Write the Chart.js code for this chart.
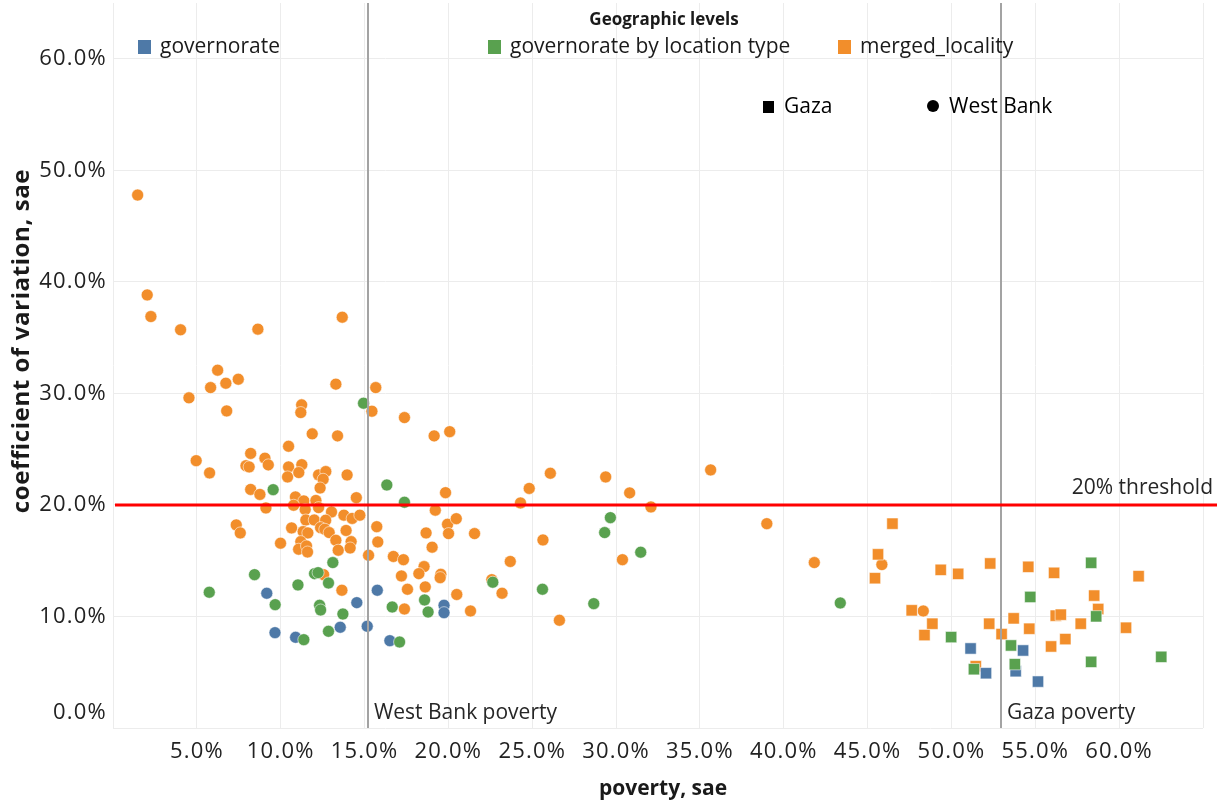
<!DOCTYPE html>
<html>
<head>
<meta charset="utf-8">
<title>Poverty vs coefficient of variation</title>
<script src="https://cdn.jsdelivr.net/npm/chart.js@4.4.0/dist/chart.umd.min.js"></script>
<style>
  html, body { margin: 0; padding: 0; background: #ffffff; }
  #wrap { width: 1223px; height: 805px; }
</style>
</head>
<body>
<div id="wrap"><canvas id="chart" width="1223" height="805"></canvas></div>
<script>
// ---- data: poverty (sae, %) and coefficient of variation (sae, %) ----
// governorate level
const govWestBankPoverty = [9.17, 15.76, 14.54, 19.74, 19.74, 9.66, 10.89, 13.55, 15.16, 16.51];
const govWestBankCV      = [12.08, 12.35, 11.24, 11.0, 10.34, 8.55, 8.13, 9.03, 9.12, 7.83];
const govGazaPoverty     = [51.14, 54.27, 52.06, 53.83, 55.16];
const govGazaCV          = [7.13, 6.95, 4.91, 5.09, 4.16];

// governorate by location type
const locWestBankPoverty = [14.94, 16.33, 17.38, 9.55, 13.11, 8.44, 12.02, 12.23, 12.85, 11.03, 5.74, 9.67, 12.32, 12.38,
                            13.71, 18.58, 16.65, 18.79, 11.38, 12.85, 17.09, 22.65, 25.61, 28.67, 29.66, 29.32, 31.47, 43.37];
const locWestBankCV      = [29.12, 21.79, 20.24, 21.37, 14.83, 13.75, 13.84, 13.93, 13.0, 12.83, 12.17, 11.06, 11.0, 10.58,
                            10.22, 11.48, 10.85, 10.4, 7.92, 8.67, 7.71, 13.07, 12.44, 11.15, 18.86, 17.52, 15.76, 11.21];
const locGazaPoverty     = [58.33, 54.70, 58.63, 49.98, 53.55, 58.33, 62.51, 51.34, 53.78];
const locGazaCV          = [14.81, 11.75, 10.01, 8.15, 7.4, 5.93, 6.38, 5.27, 5.72];

// merged localities
const mergedWestBankPoverty = [
  1.47, 2.04, 2.26, 4.03, 8.64, 13.67, 6.24, 5.82, 6.73, 7.47, 4.53, 6.78, 13.29, 15.67, 15.44, 11.25, 11.2, 11.88, 13.39, 10.47,
  17.38, 19.15, 20.08, 4.96, 5.76, 8.21, 7.93, 8.12, 9.06, 9.26, 10.47, 11.26, 10.41, 11.08, 12.26, 12.69, 12.53, 12.35, 13.96, 8.21,
  8.76, 10.88, 11.38, 12.1, 14.51, 19.83, 10.77, 9.12, 11.46, 12.26, 13.03, 13.77, 14.26, 14.72, 19.22, 11.5, 12.0, 12.68, 7.35, 7.59,
  10.65, 11.34, 11.62, 12.38, 12.63, 12.89, 13.9, 15.73, 19.95, 20.01, 18.67, 20.47, 21.56, 9.99, 11.2, 11.07, 11.54, 11.6, 13.29, 13.43,
  14.2, 14.14, 15.79, 19.03, 15.24, 16.72, 17.32, 18.55, 18.24, 17.2, 19.55, 19.51, 18.62, 17.56, 12.56, 13.65, 20.5, 17.38, 21.32, 22.59,
  23.2, 23.69, 24.3, 24.82, 26.08, 25.64, 26.62, 29.38, 30.81, 30.38, 32.08, 35.64, 38.99, 41.82, 45.85, 48.32
];
const mergedWestBankCV = [
  47.78, 38.83, 36.89, 35.7, 35.76, 36.83, 32.08, 30.52, 30.91, 31.27, 29.6, 28.43, 30.83, 30.52, 28.4, 28.97, 28.28, 26.37, 26.19, 25.26,
  27.83, 26.19, 26.57, 23.97, 22.87, 24.62, 23.52, 23.41, 24.19, 23.59, 23.41, 23.61, 22.51, 22.9, 22.69, 22.99, 22.3, 21.52, 22.69, 21.39,
  20.94, 20.72, 20.36, 20.4, 20.65, 21.1, 19.97, 19.73, 19.58, 19.76, 19.37, 19.08, 18.79, 19.08, 19.53, 18.65, 18.65, 18.63, 18.21, 17.49,
  17.94, 17.61, 17.49, 17.96, 17.82, 17.52, 17.71, 18.05, 18.27, 17.43, 17.49, 18.77, 17.43, 16.57, 16.71, 16.03, 16.32, 15.78, 16.83, 15.94,
  16.71, 16.14, 16.68, 16.21, 15.49, 15.38, 15.09, 14.47, 13.84, 13.63, 13.78, 13.48, 12.65, 12.44, 13.75, 12.35, 11.97, 10.67, 10.49, 13.3,
  12.08, 14.93, 20.18, 21.48, 22.84, 16.86, 9.66, 22.51, 21.08, 15.09, 19.82, 23.14, 18.32, 14.83, 14.65, 10.49
];
const mergedGazaPoverty = [46.48, 45.62, 45.44, 49.36, 50.4, 52.31, 54.58, 56.12, 61.16, 58.51, 58.75, 47.63, 48.86, 48.39, 52.25,
                           53.71, 52.99, 54.64, 56.22, 56.52, 57.71, 60.41, 56.79, 55.94, 51.45];
const mergedGazaCV      = [18.32, 15.57, 13.43, 14.18, 13.82, 14.75, 14.45, 13.91, 13.61, 11.87, 10.67, 10.55, 9.35, 8.33, 9.35,
                           9.83, 8.42, 8.9, 10.07, 10.16, 9.35, 8.99, 7.97, 7.31, 5.54];

// reference values
const westBankPovertyRate = 15.2;
const gazaPovertyRate = 52.95;
const cvThreshold = 20;

// axis ticks
const xTickValues = [5, 10, 15, 20, 25, 30, 35, 40, 45, 50, 55, 60];
const yTickValues = [0, 10, 20, 30, 40, 50, 60];

const levelNames = ['governorate', 'governorate by location type', 'merged_locality'];
const regionNames = ['Gaza', 'West Bank'];
const xTitle = 'poverty, sae';
const yTitle = 'coefficient of variation, sae';

// ---- styling ----
const FONT = '"Open Sans", "Noto Sans", "DejaVu Sans", sans-serif';
const COLORS = { governorate: '#4e79a7', location: '#59a14f', merged: '#f28e2b' };
const CIRCLE_R = 6;
const SQUARE_R = 8;
const TICK_SPACING = '1.2px';

function pairs(xs, ys) {
  return xs.map((x, i) => ({ x: x, y: ys[i] }));
}

function series(label, xs, ys, color, shape, order) {
  return {
    label: label,
    data: pairs(xs, ys),
    pointStyle: shape,
    pointRadius: shape === 'rect' ? SQUARE_R : CIRCLE_R,
    pointHoverRadius: shape === 'rect' ? SQUARE_R : CIRCLE_R,
    backgroundColor: color,
    borderColor: 'rgba(255,255,255,0.55)',
    borderWidth: 1,
    order: order
  };
}

const datasets = [
  series('governorate (Gaza)', govGazaPoverty, govGazaCV, COLORS.governorate, 'rect', 1),
  series('governorate (West Bank)', govWestBankPoverty, govWestBankCV, COLORS.governorate, 'circle', 1),
  series('governorate by location type (Gaza)', locGazaPoverty, locGazaCV, COLORS.location, 'rect', 0),
  series('governorate by location type (West Bank)', locWestBankPoverty, locWestBankCV, COLORS.location, 'circle', 0),
  series('merged_locality (Gaza)', mergedGazaPoverty, mergedGazaCV, COLORS.merged, 'rect', 2),
  series('merged_locality (West Bank)', mergedWestBankPoverty, mergedWestBankCV, COLORS.merged, 'circle', 2)
];

function pct(v) { return v.toFixed(1) + '%'; }

// slightly looser tracking for the axis tick labels
const tickTracking = {
  id: 'tickTracking',
  beforeDraw(chart) { chart.ctx.letterSpacing = TICK_SPACING; },
  beforeDatasetsDraw(chart) { chart.ctx.letterSpacing = '0px'; }
};

// reference lines and their captions, drawn over the marks
const referenceLines = {
  id: 'referenceLines',
  afterDatasetsDraw(chart) {
    const { ctx, chartArea, scales } = chart;
    const xs = scales.x, ys = scales.y;
    ctx.save();
    ctx.letterSpacing = '0px';
    // poverty rates (vertical)
    ctx.strokeStyle = '#a3a3a3';
    ctx.lineWidth = 2;
    [westBankPovertyRate, gazaPovertyRate].forEach(v => {
      const px = Math.round(xs.getPixelForValue(v));
      ctx.beginPath();
      ctx.moveTo(px, chartArea.top);
      ctx.lineTo(px, chartArea.bottom);
      ctx.stroke();
    });
    // CV threshold (horizontal)
    const py = ys.getPixelForValue(cvThreshold);
    ctx.strokeStyle = '#ff0000';
    ctx.lineWidth = 3;
    ctx.beginPath();
    ctx.moveTo(chartArea.left + 2, py);
    ctx.lineTo(chartArea.right + 14, py);
    ctx.stroke();

    ctx.fillStyle = '#262626';
    ctx.font = '21px ' + FONT;
    ctx.textBaseline = 'middle';
    ctx.textAlign = 'left';
    const labelY = ys.getPixelForValue(0) - 15;
    ctx.fillText('West Bank poverty', xs.getPixelForValue(westBankPovertyRate) + 6, labelY);
    ctx.fillText('Gaza poverty', xs.getPixelForValue(gazaPovertyRate) + 6, labelY);
    ctx.textAlign = 'right';
    ctx.fillText(cvThreshold + '% threshold', chartArea.right + 10, py - 17);
    ctx.restore();
  }
};

// colour and shape legends placed inside the plot, the raised 0% label and the axis titles
const overlayLegend = {
  id: 'overlayLegend',
  afterDraw(chart) {
    const { ctx, scales, chartArea } = chart;
    const ys = scales.y;
    ctx.save();
    ctx.letterSpacing = '0px';
    ctx.fillStyle = '#1a1a1a';
    ctx.font = 'bold 17px ' + FONT;
    ctx.textAlign = 'center';
    ctx.textBaseline = 'middle';
    ctx.fillText('Geographic levels', 664, 20);

    const items = [
      { name: levelNames[0], color: COLORS.governorate, x: 138 },
      { name: levelNames[1], color: COLORS.location, x: 488 },
      { name: levelNames[2], color: COLORS.merged, x: 838 }
    ];
    ctx.font = '21px ' + FONT;
    ctx.textAlign = 'left';
    items.forEach(it => {
      ctx.fillStyle = it.color;
      ctx.fillRect(it.x, 40, 13, 14);
      ctx.fillStyle = '#1a1a1a';
      ctx.fillText(it.name, it.x + 22, 47);
    });

    // region shapes
    ctx.fillStyle = '#000';
    ctx.fillRect(763, 101, 11, 12);
    ctx.fillText(regionNames[0], 784, 107);
    ctx.beginPath();
    ctx.arc(933, 106, 6, 0, Math.PI * 2);
    ctx.fill();
    ctx.fillText(regionNames[1], 949, 107);

    // bottom y tick label sits just above the axis
    ctx.letterSpacing = TICK_SPACING;
    ctx.fillStyle = '#222';
    ctx.font = '22px ' + FONT;
    ctx.textAlign = 'right';
    ctx.fillText(pct(yTickValues[0]), ys.right - 6, ys.getPixelForValue(0) - 15);

    // axis titles
    ctx.letterSpacing = '0px';
    ctx.fillStyle = '#1a1a1a';
    ctx.textAlign = 'center';
    ctx.font = 'bold 21px ' + FONT;
    ctx.fillText(xTitle, (chartArea.left + chartArea.right) / 2 + 5, 789);

    ctx.save();
    ctx.letterSpacing = '0.6px';
    ctx.translate(22, 341);
    ctx.rotate(-Math.PI / 2);
    ctx.font = 'bold 24px ' + FONT;
    ctx.fillText(yTitle, 0, 0);
    ctx.restore();
    ctx.restore();
  }
};

Chart.defaults.font.family = FONT;

new Chart(document.getElementById('chart'), {
  type: 'scatter',
  data: { datasets: datasets },
  plugins: [tickTracking, referenceLines, overlayLegend],
  options: {
    responsive: false,
    animation: false,
    devicePixelRatio: 1,
    layout: { autoPadding: false, padding: { top: 3, right: 20, bottom: 0, left: 0 } },
    plugins: {
      legend: { display: false },
      tooltip: { enabled: false }
    },
    scales: {
      x: {
        type: 'linear',
        min: 0,
        max: 65,
        afterFit(scale) {
          scale.height = 77;
          scale.paddingLeft = 0;
          scale.paddingRight = 0;
        },
        afterBuildTicks(scale) {
          scale.ticks = [0].concat(xTickValues, [65]).map(v => ({ value: v }));
        },
        border: { display: false },
        grid: { color: '#ececec', lineWidth: 1, drawTicks: false },
        ticks: {
          padding: 11,
          color: '#222',
          font: { size: 22 },
          maxRotation: 0,
          autoSkip: false,
          callback: v => xTickValues.includes(v) ? pct(v) : ''
        },
        title: { display: false }
      },
      y: {
        type: 'linear',
        min: 0,
        max: 65,
        afterFit(scale) {
          scale.width = 113;
          scale.paddingTop = 0;
          scale.paddingBottom = 0;
        },
        afterBuildTicks(scale) {
          scale.ticks = yTickValues.concat([65]).map(v => ({ value: v }));
        },
        border: { display: false },
        grid: {
          color: ctx => (ctx.tick && ctx.tick.value === 65) ? 'rgba(0,0,0,0)' : '#ececec',
          lineWidth: 1,
          drawTicks: false
        },
        ticks: {
          padding: 6,
          color: '#222',
          font: { size: 22 },
          autoSkip: false,
          callback: v => (v > 0 && yTickValues.includes(v)) ? pct(v) : ''
        },
        title: { display: false }
      }
    }
  }
});
</script>
</body>
</html>
